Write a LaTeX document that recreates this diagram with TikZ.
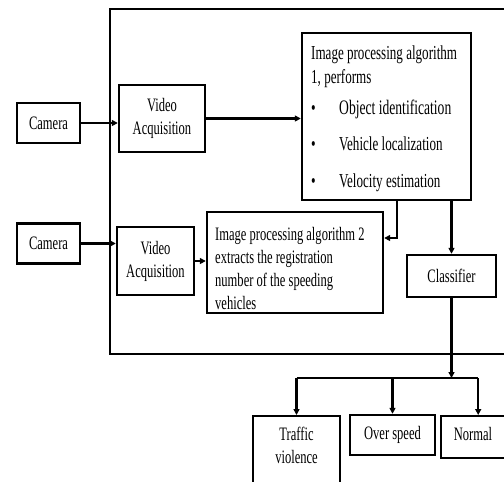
\documentclass[tikz,border=0pt]{standalone}
\usepackage{fontspec}
\setmainfont[FakeStretch=0.66]{Liberation Serif}
\usetikzlibrary{arrows.meta}
\begin{document}
\begin{tikzpicture}[x=1pt,y=-1pt,
  box/.style={draw, line width=2.4pt, inner sep=0pt, align=center, font=\fontsize{19}{23}\selectfont},
  txt/.style={inner sep=0pt, align=left, font=\fontsize{19}{23}\selectfont},
  conn/.style={line width=2.4pt},
  arr/.style={conn, -{Triangle[length=6pt,width=6pt]}}]
\useasboundingbox (0,0) rectangle (504,482);
% outer frame
\draw[conn] (508,9) -| (110,354) -- (508,354);
% nodes
\node[box, minimum width=63, minimum height=40] (cam1) at (48.5,123) {Camera};
\node[box, minimum width=86, minimum height=67] (va1) at (162,118.5) {Video\\Acquisition};
\node[box, minimum width=169, minimum height=167] (alg1) at (386.5,116.5) {};
\node[txt, anchor=north west, font=\fontsize{19.8}{23.5}\selectfont] (alg1t) at (311,46) {Image processing algorithm\\1, performs\\[7.5pt]%
\makebox[28pt][l]{\textbullet}\fontsize{20.6}{24}\selectfont Object identification\\[13pt]%
\makebox[28pt][l]{\textbullet}Vehicle localization\\[13pt]%
\makebox[28pt][l]{\textbullet}Velocity estimation};
\node[box, minimum width=63, minimum height=40] (cam2) at (48.5,243.5) {Camera};
\node[box, minimum width=77, minimum height=68] (va2) at (155.5,261) {Video\\Acquisition};
\node[box, minimum width=176, minimum height=101] (alg2) at (295,262.5) {};
\node[txt, anchor=north west] (alg2t) at (215,227) {Image processing algorithm 2\\extracts the registration\\number of the speeding\\vehicles};
\node[box, minimum width=89, minimum height=42] (cls) at (451.5,276) {Classifier};
\node[box, minimum width=87, minimum height=90, anchor=north] (tv) at (296.5,415) {};
\node[txt, align=center] (tvt) at (296.5,445) {Traffic\\violence};
\node[box, minimum width=85, minimum height=40] (os) at (392.5,435) {Over speed};
\node[box, minimum width=66, minimum height=42, anchor=north west] (nor) at (440,415) {};
\node[txt] (nort) at (473,434) {Normal};
\coordinate (split) at (451.5,378);
\coordinate (norin) at ([xshift=4pt]nor.north);
% connectors
\draw[arr] (cam1.east) -- (cam1.east -| va1.west);
\draw[arr] (va1.east) -- (va1.east -| alg1.west);
\draw[arr] (cam2.east) -- (cam2.east -| va2.west);
\draw[arr] (va2.east) -- (va2.east -| alg2.west);
\draw[arr] ([xshift=10.5pt]alg1.south) |- ([yshift=24.5pt]alg2.east);
\draw[arr] (alg1.south -| cls.north) -- (cls.north);
\draw[arr] (cls.south) -- (split);
\draw[conn] (split -| tv.north) -- (split -| norin);
\draw[arr] (split -| tv.north) -- (tv.north);
\draw[arr] (split -| os.north) -- (os.north);
\draw[arr] (split -| norin) -- (norin);
\end{tikzpicture}
\end{document}
